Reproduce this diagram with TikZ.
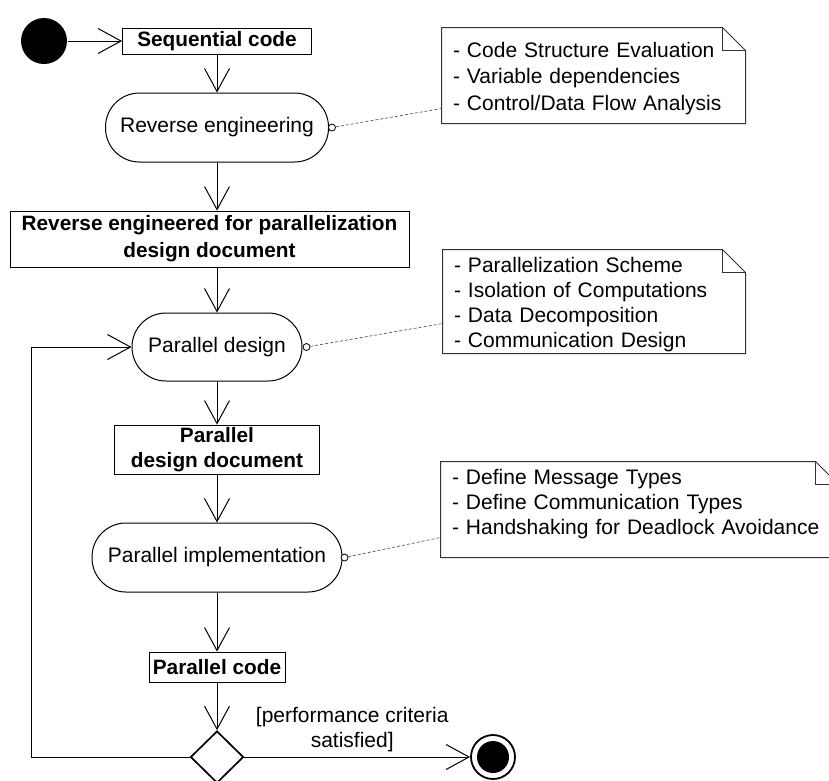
\documentclass[tikz,border=0pt]{standalone}
\usepackage{fontspec}
\setmainfont{Liberation Sans}
\usepackage{tikz}
\usetikzlibrary{positioning}
\usetikzlibrary{shapes}
\usetikzlibrary{arrows.meta}

\tikzset{
	obj/.style={rectangle, draw, line width=0.9pt, font=\fontsize{20.8}{25}\selectfont\bfseries, align=center, inner sep=2pt},
	act/.style={rectangle, rounded corners=34pt, draw, font=\fontsize{21}{25}\selectfont, minimum height=69pt},
	note/.style={rectangle, align=left, inner xsep=11pt, inner ysep=0pt, font=\fontsize{21}{25}\selectfont},
	hook/.style={circle, draw, fill=white, inner sep=0pt, minimum size=7pt, line width=0.8pt},
	link/.style={densely dashed, line width=0.6pt, black!75},
}

\begin{document}
\begin{tikzpicture}[x=1pt, y=-1pt, line width=1pt, >={Straight Barb[length=23pt,width=25pt]}]
				\useasboundingbox (0,0) rectangle (829,780);
				
				\node[circle, fill, minimum size=46pt, inner sep=0pt] (start) at (44,41) {};
				\node[obj, minimum width=189pt, minimum height=26pt] (seq) at (217,41) {Sequential code};
				\node[act, minimum width=223pt] (re) at (217,127.5) {Reverse engineering};
				\node[obj, minimum width=399pt, minimum height=56pt, font=\fontsize{20.8}{27}\selectfont\bfseries] (rev) at (209.5,239) {Reverse engineered for parallelization\\design document};
				\node[act, minimum width=170pt, minimum height=68pt] (pd) at (217,347) {Parallel design};
				\node[obj, minimum width=205pt, minimum height=49pt] (pdd) at (217,449.5) {Parallel\\design document};
				\node[act, minimum width=250pt] (pi) at (217,557.5) {Parallel implementation};
				\node[obj, minimum width=136pt, minimum height=30pt] (pc) at (217,667) {Parallel code};
				\node[diamond, draw, line width=1.7pt, aspect=1, minimum width=53pt, minimum height=52pt, inner sep=0pt] (dec) at (217,757) {};
				\node[circle, draw, line width=1.8pt, minimum size=44pt, inner sep=0pt,
					path picture={\fill (path picture bounding box.center) circle (16pt);}] (end) at (493,757) {};
				\coordinate (loop) at (31,757);
				
				% notes
				\node[note, text width=281pt, minimum height=95pt, text depth=51.5pt, font=\fontsize{21}{26.5}\selectfont] (n1) at (593.5,75.5) {- Code Structure Evaluation\\- Variable dependencies\\- Control/Data Flow Analysis};
				\node[note, text width=280pt, minimum height=103pt, text depth=73.5pt] (n2) at (594,301.5) {- Parallelization Scheme\\- Isolation of Computations\\- Data Decomposition\\- Communication Design};
				\node[note, text width=375pt, minimum height=95pt, text depth=65.5pt] (n3) at (639.5,509.5) {- Define Message Types\\- Define Communication Types\\- Handshaking for Deadlock Avoidance};
				\foreach \n in {n1,n2,n3} {
					\draw[black!80] (\n.north west) -- ([xshift=-23pt]\n.north east) -- ([yshift=-23pt]\n.north east) -- (\n.south east) -- (\n.south west) -- cycle;
					\draw[black!80] ([xshift=-23pt]\n.north east) |- ([yshift=-23pt]\n.north east);
				}
				
				\node[hook] (h1) at ([xshift=3pt]re.east) {};
				\node[hook] (h2) at ([xshift=4pt]pd.east) {};
				\node[hook] (h3) at ([xshift=2pt]pi.east) {};
				\draw[link] (h1) -- ([yshift=15pt]n1.south west);
				\draw[link] (h2) -- ([yshift=30pt]n2.south west);
				\draw[link] (h3) -- ([yshift=20pt]n3.south west);
				
				\draw[->] (start) -- (seq);
				\draw[->] (seq) -- (re);
				\draw[->] (re.south) -- (re.south |- rev.north);
				\draw[->] (rev.south -| pd.north) -- (pd.north);
				\draw[->] (pd) -- (pdd);
				\draw[->] (pdd) -- (pi);
				\draw[->] (pi) -- (pc);
				\draw[->] (pc) -- (dec);
				\draw[->] (dec) -- (end) node[midway, above=1pt, xshift=-5pt, align=center, font=\fontsize{21}{25}\selectfont] (guard) {[performance criteria\\satisfied]};
				\draw[->] (dec.west) -- (loop) |- (pd.west);
			\end{tikzpicture}
\end{document}
